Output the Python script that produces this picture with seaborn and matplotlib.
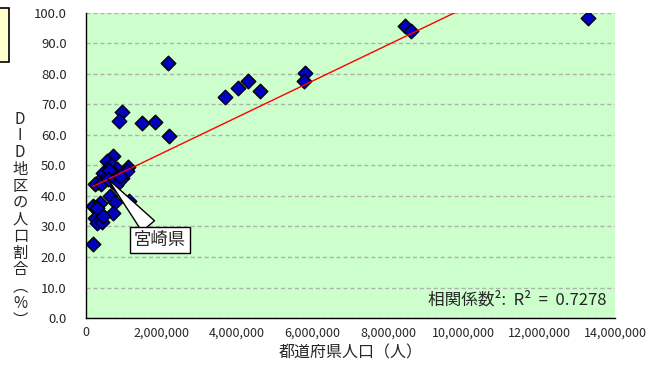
import pandas as pd
import numpy as np
import matplotlib.pyplot as plt
import matplotlib.patches as mpatches
import matplotlib.ticker as mticker
import seaborn as sns

# prefecture population (persons) and share of population living in DID (%)
population = [13280000, 8440000, 8600000, 5800000, 5780000, 4290000, 4030000, 4600000,
              3680000, 2180000, 2200000, 1830000, 1480000, 944000, 873000,
              723000, 564000, 653000, 829000, 1120000, 723000, 459000, 547000,
              326000, 238000, 944000, 1080000, 794000, 635000, 767000, 1150000,
              706000, 193000, 370000, 344000, 238000, 280000, 415000, 177000,
              620000, 680000, 850000, 400000, 580000, 300000, 450000, 900000]
did_ratio = [98.5, 95.7, 94.2, 80.4, 77.6, 77.8, 75.3, 74.3,
             72.4, 83.5, 59.8, 64.3, 64.0, 67.6, 64.6,
             53.1, 51.6, 50.2, 48.7, 49.4, 47.4, 47.4, 46.1,
             44.7, 43.9, 45.8, 48.2, 43.6, 40.1, 37.9, 38.5,
             34.3, 36.8, 37.6, 34.9, 32.7, 31.2, 31.6, 24.2,
             48.5, 45.0, 44.5, 44.0, 45.6, 36.0, 33.5, 46.5]
highlight_name = "宮崎県"
highlight_idx = 43
r2_text = "相関係数²:  R²  =  0.7278"

df = pd.DataFrame({'pop': population, 'did': did_ratio})

sns.set_style('white')
plt.rcParams['font.family'] = ['Noto Sans CJK JP', 'DejaVu Sans']

fig = plt.figure(figsize=(6.53, 3.69), dpi=100)
ax = fig.add_axes([0.1317, 0.1382, 0.81, 0.8266])
ax.set_facecolor('#CCFFCC')

sns.scatterplot(x='pop', y='did', data=df, marker='D', s=55, color='#0000C0',
                edgecolor='black', linewidth=1.0, ax=ax, zorder=3)
sns.regplot(x='pop', y='did', data=df, scatter=False, ci=None, color='red',
            line_kws={'lw': 1.0, 'zorder': 4}, ax=ax)

ax.set_xlim(0, 14000000)
ax.set_ylim(0, 100)
ax.set_xticks(np.arange(0, 14000001, 2000000))
ax.set_yticks(np.arange(0, 101, 10))
ax.xaxis.set_major_formatter(mticker.FuncFormatter(lambda v, p: f'{int(v):,}'))
ax.yaxis.set_major_formatter(mticker.FormatStrFormatter('%.1f'))
ax.tick_params(axis='x', direction='in', length=4, width=1, color='black', pad=6, labelsize=9)
ax.tick_params(axis='y', length=0, pad=14, labelsize=9.5)

ax.grid(axis='y', color='#B0B0B0', linestyle=(0, (3, 2)), linewidth=1.0)
ax.set_axisbelow(True)
for side in ['top', 'right']:
    ax.spines[side].set_visible(False)
for side in ['left', 'bottom']:
    ax.spines[side].set_color('black')
    ax.spines[side].set_linewidth(1.0)

ax.set_xlabel('都道府県人口（人）', fontsize=11.5, labelpad=4)
ax.set_ylabel('')
fig.text(0.031, 0.405, 'D\nI\nD\n地\n区\nの\n人\n口\n割\n合\n︵\n%\n︶', fontsize=11,
         ha='center', va='center', linespacing=0.98)

ax.text(0.985, 0.03, r2_text, transform=ax.transAxes, ha='right', va='bottom', fontsize=12)

ax.annotate(highlight_name, xy=(population[highlight_idx], did_ratio[highlight_idx]),
            xytext=(1960000, 25.6), textcoords='data', ha='center', va='center', fontsize=12.5,
            bbox=dict(boxstyle='square,pad=0.25', fc='white', ec='black', lw=1),
            arrowprops=dict(arrowstyle='wedge,tail_width=0.95,shrink_factor=0.5',
                            fc='white', ec='black', lw=1, shrinkA=0, shrinkB=0),
            zorder=5)

# partially visible box at the left edge
fig.patches.append(mpatches.Rectangle((-0.01, 0.832), 0.0238, 0.146, transform=fig.transFigure,
                                      fc='#FFFFCC', ec='black', lw=1.2))

plt.savefig('out.png', dpi=100)
